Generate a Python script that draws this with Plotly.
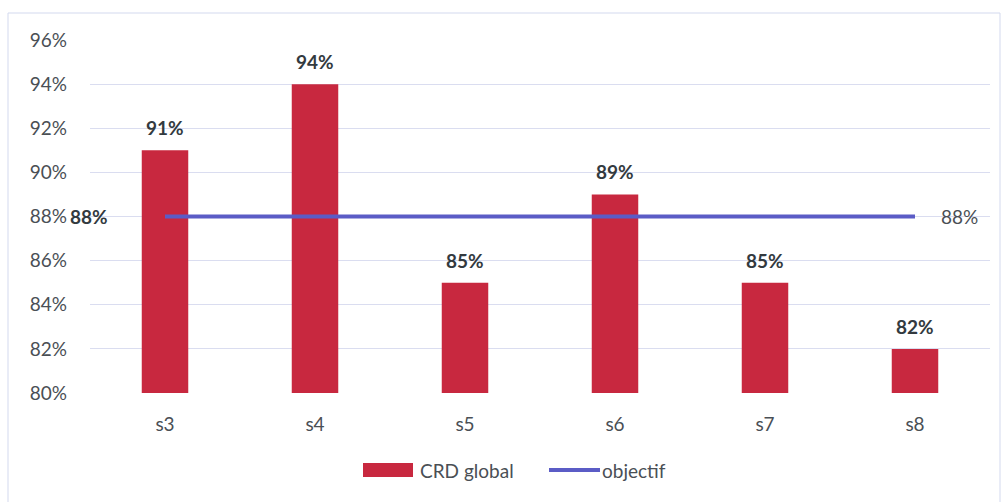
import plotly.graph_objects as go

# Weekly global CRD rate against the target
semaines = ["s3", "s4", "s5", "s6", "s7", "s8"]
crd_global = [91, 94, 85, 89, 85, 82]
objectif = [88, 88, 88, 88, 88, 88]
y_ticks = [80, 82, 84, 86, 88, 90, 92, 94, 96]

BAR_COLOR = "#C8283F"
LINE_COLOR = "#5B5CC6"
TEXT_DARK = "#333A3F"
TICK_COLOR = "#4A4F55"
GRID_COLOR = "#DADDF0"
FONT = "Lato, 'Open Sans', sans-serif"
FS = 19

W, H = 1004, 502
L, R, T, B = 90, 14, 40, 109
PW, PH = W - L - R, H - T - B


def px_x(p):
    return (p - L) / PW


def px_y(p):
    return (H - B - p) / PH


fig = go.Figure()
fig.add_trace(go.Bar(
    x=semaines, y=crd_global, name="CRD global",
    marker=dict(color=BAR_COLOR, line=dict(width=0)),
    width=0.31, showlegend=False,
))
fig.add_trace(go.Scatter(
    x=semaines, y=objectif, name="objectif", mode="lines",
    line=dict(color=LINE_COLOR, width=4), showlegend=False,
))

annotations = []
for s, v in zip(semaines, crd_global):
    annotations.append(dict(
        x=s, y=v, text=f"<b>{v}%</b>", showarrow=False,
        yanchor="bottom", yshift=9,
        font=dict(family=FONT, size=FS, color=TEXT_DARK),
    ))
# target labels at both ends of the line
annotations.append(dict(
    x=semaines[0], y=objectif[0], text=f"<b>{objectif[0]}%</b>", showarrow=False,
    xanchor="right", xshift=-55, font=dict(family=FONT, size=FS, color=TEXT_DARK),
))
annotations.append(dict(
    x=semaines[-1], y=objectif[-1], text=f"{objectif[-1]}%", showarrow=False,
    xanchor="left", xshift=24, font=dict(family=FONT, size=FS, color=TICK_COLOR),
))
# legend entries
annotations.append(dict(
    xref="paper", yref="paper", x=px_x(418), y=px_y(470), text="CRD global",
    showarrow=False, xanchor="left", yanchor="middle",
    font=dict(family=FONT, size=FS, color=TICK_COLOR),
))
annotations.append(dict(
    xref="paper", yref="paper", x=px_x(600), y=px_y(470), text="objectif",
    showarrow=False, xanchor="left", yanchor="middle",
    font=dict(family=FONT, size=FS, color=TICK_COLOR),
))

shapes = [
    # chart frame
    dict(type="rect", xref="paper", yref="paper",
         x0=px_x(8), x1=px_x(1000), y0=px_y(520), y1=px_y(13),
         line=dict(color="#D3D9EE", width=1), layer="below"),
    # legend swatches
    dict(type="rect", xref="paper", yref="paper",
         x0=px_x(363), x1=px_x(413), y0=px_y(477), y1=px_y(463),
         fillcolor=BAR_COLOR, line=dict(width=0)),
    dict(type="line", xref="paper", yref="paper",
         x0=px_x(549), x1=px_x(600), y0=px_y(470), y1=px_y(470),
         line=dict(color=LINE_COLOR, width=4)),
]

fig.update_layout(
    width=W, height=H,
    margin=dict(l=L, r=R, t=T, b=B),
    paper_bgcolor="white", plot_bgcolor="white",
    font=dict(family=FONT, size=FS, color=TICK_COLOR),
    annotations=annotations, shapes=shapes,
    bargap=0.69,
)
fig.update_xaxes(
    range=[-0.5, len(semaines) - 0.5], autorange=False,
    showgrid=False, showline=False, zeroline=False,
    tickfont=dict(family=FONT, size=FS, color=TICK_COLOR),
    ticks="", ticklabelstandoff=18,
)
fig.update_yaxes(
    range=[80, 96], autorange=False, tickvals=y_ticks,
    ticktext=[f"{v}%" for v in y_ticks],
    showgrid=True, gridcolor=GRID_COLOR, gridwidth=1,
    zeroline=False, showline=False, ticks="",
    tickfont=dict(family=FONT, size=FS, color=TICK_COLOR),
    ticklabelstandoff=22,
)

fig.write_html("out.html")
